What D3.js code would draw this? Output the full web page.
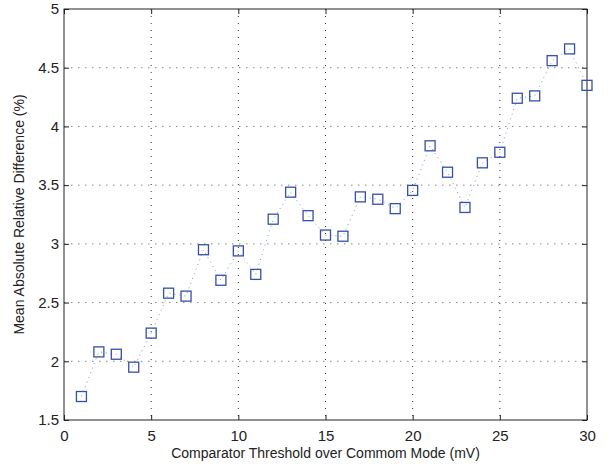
<!DOCTYPE html>
<html>
<head>
<meta charset="utf-8">
<script src="https://cdn.jsdelivr.net/npm/d3@7"></script>
<style>
  body { margin: 0; background: #fff; }
  svg { display: block; font-family: "Liberation Sans", Arial, sans-serif; }
  .tick text { font-size: 15px; fill: #222; }
  .axis path { display: none; }
  .axis line { stroke: #222; }
</style>
</head>
<body>
<div id="chart"></div>
<script>
// threshold (mV)
const thresholds = d3.range(1, 31);
// mean absolute relative difference (%)
const meanDiff = [1.70, 2.08, 2.06, 1.95, 2.24, 2.58, 2.555, 2.95, 2.69, 2.94,
                  2.74, 3.21, 3.44, 3.24, 3.075, 3.065, 3.40, 3.38, 3.30, 3.455,
                  3.835, 3.61, 3.31, 3.69, 3.78, 4.24, 4.26, 4.56, 4.66, 4.35];
const xTicks = [0, 5, 10, 15, 20, 25, 30];
const yTicks = [1.5, 2, 2.5, 3, 3.5, 4, 4.5, 5];

const data = thresholds.map((t, i) => ({ t, v: meanDiff[i] }));

const width = 614;
const height = 464;
const margin = { top: 9, right: 27, bottom: 44, left: 64 };
const innerW = width - margin.left - margin.right;
const innerH = height - margin.top - margin.bottom;

const svg = d3.select('#chart')
  .append('svg')
  .attr('width', width)
  .attr('height', height);

const g = svg.append('g')
  .attr('transform', `translate(${margin.left},${margin.top})`);

const xScale = d3.scaleLinear().domain([0, 30]).range([0, innerW]);
const yScale = d3.scaleLinear().domain([1.5, 5]).range([innerH, 0]);

// dotted grid
g.append('g')
  .selectAll('line')
  .data(yTicks.slice(1, -1))
  .join('line')
  .attr('x1', 0).attr('x2', innerW)
  .attr('y1', (d) => yScale(d)).attr('y2', (d) => yScale(d))
  .attr('stroke', '#888')
  .attr('stroke-dasharray', '1.5,5.5');

g.append('g')
  .selectAll('line')
  .data(xTicks.slice(1, -1))
  .join('line')
  .attr('y1', 0).attr('y2', innerH)
  .attr('x1', (d) => xScale(d)).attr('x2', (d) => xScale(d))
  .attr('stroke', '#333')
  .attr('stroke-dasharray', '1,6');

// axes with inward ticks
g.append('g')
  .attr('class', 'axis')
  .attr('transform', `translate(0,${innerH})`)
  .call(d3.axisBottom(xScale).tickValues(xTicks).tickSizeInner(-5).tickSizeOuter(0).tickPadding(10));

g.append('g')
  .attr('class', 'axis')
  .call(d3.axisLeft(yScale).tickValues(yTicks).tickFormat(d3.format('')).tickSizeInner(-5).tickSizeOuter(0).tickPadding(5));

g.append('g')
  .attr('class', 'axis')
  .call(d3.axisTop(xScale).tickValues(xTicks).tickSizeInner(-5).tickSizeOuter(0).tickFormat(''));

g.append('g')
  .attr('class', 'axis')
  .attr('transform', `translate(${innerW},0)`)
  .call(d3.axisRight(yScale).tickValues(yTicks).tickSizeInner(-5).tickSizeOuter(0).tickFormat(''));

// box
g.append('rect')
  .attr('width', innerW)
  .attr('height', innerH)
  .attr('fill', 'none')
  .attr('stroke', '#222')
  .attr('stroke-width', 1);

// dotted connecting line
const line = d3.line()
  .x((d) => xScale(d.t))
  .y((d) => yScale(d.v));

g.append('path')
  .datum(data)
  .attr('d', line)
  .attr('fill', 'none')
  .attr('stroke', '#7f92d8')
  .attr('stroke-width', 1)
  .attr('stroke-dasharray', '1,4');

// square markers
g.append('g')
  .selectAll('rect')
  .data(data)
  .join('rect')
  .attr('x', (d) => xScale(d.t) - 5)
  .attr('y', (d) => yScale(d.v) - 5)
  .attr('width', 10)
  .attr('height', 10)
  .attr('fill', 'none')
  .attr('stroke', '#3550a8')
  .attr('stroke-width', 1.3);

// labels
svg.append('text')
  .attr('x', margin.left + innerW / 2)
  .attr('y', 458)
  .attr('text-anchor', 'middle')
  .style('font-size', '14px')
  .attr('fill', '#222')
  .text('Comparator Threshold over Commom Mode (mV)');

svg.append('text')
  .attr('transform', `translate(24,${margin.top + innerH / 2}) rotate(-90)`)
  .attr('text-anchor', 'middle')
  .style('font-size', '14px')
  .attr('fill', '#222')
  .text('Mean Absolute Relative Difference (%)');
</script>
</body>
</html>
